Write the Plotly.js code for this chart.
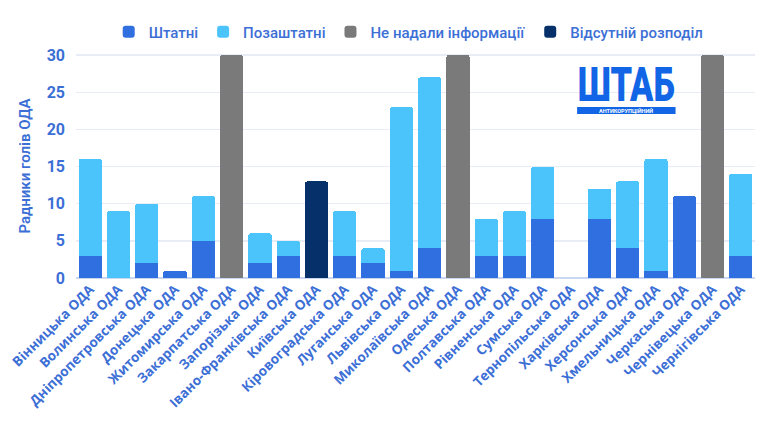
<!DOCTYPE html>
<html>
<head>
<meta charset="utf-8">
<script src="https://cdn.plot.ly/plotly-3.0.1.min.js"></script>
<style>
  html, body { margin: 0; padding: 0; background: #ffffff; }
  #chart { width: 768px; height: 432px; }
</style>
</head>
<body>
<div id="chart"></div>
<script>
// Радники голів обласних державних адміністрацій
const regions = [
  'Вінницька ОДА', 'Волинська ОДА', 'Дніпропетровська ОДА', 'Донецька ОДА',
  'Житомирська ОДА', 'Закарпатська ОДА', 'Запорізька ОДА', 'Івано-Франківська ОДА',
  'Київська ОДА', 'Кіровоградська ОДА', 'Луганська ОДА', 'Львівська ОДА',
  'Миколаївська ОДА', 'Одеська ОДА', 'Полтавська ОДА', 'Рівненська ОДА',
  'Сумська ОДА', 'Тернопільська ОДА', 'Харківська ОДА', 'Херсонська ОДА',
  'Хмельницька ОДА', 'Черкаська ОДА', 'Чернівецька ОДА', 'Чернігівська ОДА'
];

// штатні радники
const staff = [3, null, 2, 1, 5, null, 2, 3, null, 3, 2, 1, 4, null, 3, 3, 8, null, 8, 4, 1, 11, null, 3];
// позаштатні радники
const freelance = [13, 9, 8, null, 6, null, 4, 2, null, 6, 2, 22, 23, null, 5, 6, 7, null, 4, 9, 15, null, null, 11];
// не надали інформації
const noInfo = [null, null, null, null, null, 30, null, null, null, null, null, null, null, 30, null, null, null, null, null, null, null, null, 30, null];
// відсутній розподіл
const noSplit = [null, null, null, null, null, null, null, null, 13, null, null, null, null, null, null, null, null, null, null, null, null, null, null, null];

const yTicks = [0, 5, 10, 15, 20, 25, 30];

const textBlue = '#3c6fd6';
const logoBlue = '#1266e6';
const font = 'Roboto, "Noto Sans", sans-serif';
const labelFont = '"Open Sans", Roboto, sans-serif';

function series(name, y, color) {
  return {
    type: 'bar', name: name, x: regions, y: y,
    marker: { color: color, line: { width: 0 } },
    hoverinfo: 'x+y+name'
  };
}

const data = [
  series('Штатні', staff, '#2f6fe0'),
  series('Позаштатні', freelance, '#4bc4fb'),
  series('Не надали інформації', noInfo, '#7a7a7a'),
  series('Відсутній розподіл', noSplit, '#06306a')
];

const layout = {
  width: 768, height: 432,
  paper_bgcolor: '#ffffff', plot_bgcolor: '#ffffff',
  margin: { l: 76, r: 13, t: 54, b: 154, autoexpand: false },
  barmode: 'stack',
  bargap: 0.18,
  barcornerradius: 2,
  font: { family: font, color: textBlue },
  showlegend: true,
  legend: {
    orientation: 'h', x: 0.49, xanchor: 'center', y: 1.098, yanchor: 'middle',
    traceorder: 'normal',
    font: { family: font, size: 15, color: textBlue, weight: 500 },
    itemwidth: 30
  },
  xaxis: {
    type: 'category', tickangle: -45, automargin: false,
    tickfont: { family: labelFont, size: 13.5, color: textBlue, weight: 700 },
    showgrid: false, zeroline: false, showline: false, ticks: ''
  },
  yaxis: {
    range: [0, 30.15], tickvals: yTicks, automargin: false,
    tickfont: { family: font, size: 16, color: textBlue, weight: 700 },
    ticklabelstandoff: 10,
    gridcolor: '#e8edf5', gridwidth: 1.5,
    zeroline: true, zerolinecolor: '#c9d8f0', zerolinewidth: 2,
    showline: false, ticks: '',
    title: { text: 'Радники голів ОДА', standoff: 12,
             font: { family: font, size: 15, color: textBlue, weight: 600 } }
  },
  shapes: [
    {
      type: 'rect', xref: 'paper', yref: 'paper',
      x0: 0.738, x1: 0.883, y0: 0.732, y1: 0.763,
      fillcolor: logoBlue, line: { width: 0 }, layer: 'above'
    }
  ],
  annotations: [
    {
      xref: 'paper', yref: 'paper', x: 0.8107, y: 0.866, xanchor: 'center', yanchor: 'middle',
      text: 'ШТАБ', showarrow: false, name: 'logo',
      font: { family: font, size: 49, color: logoBlue, weight: 900 }
    },
    {
      xref: 'paper', yref: 'paper', x: 0.8107, y: 0.7475, xanchor: 'center', yanchor: 'middle',
      text: 'АНТИКОРУПЦІЙНИЙ', showarrow: false,
      font: { family: font, size: 5.5, color: '#ffffff', weight: 700 }
    }
  ]
};

Plotly.newPlot('chart', data, layout, { displayModeBar: false, staticPlot: true }).then(function (gd) {
  // narrow the wordmark horizontally around its own centre
  const t = gd.querySelector('.annotation[data-index="0"] text');
  if (t) {
    const bb = t.getBBox();
    const cx = bb.x + bb.width / 2;
    t.setAttribute('transform', 'translate(' + cx + ',0) scale(0.7,1) translate(' + (-cx) + ',0)');
  }
});
</script>
</body>
</html>
